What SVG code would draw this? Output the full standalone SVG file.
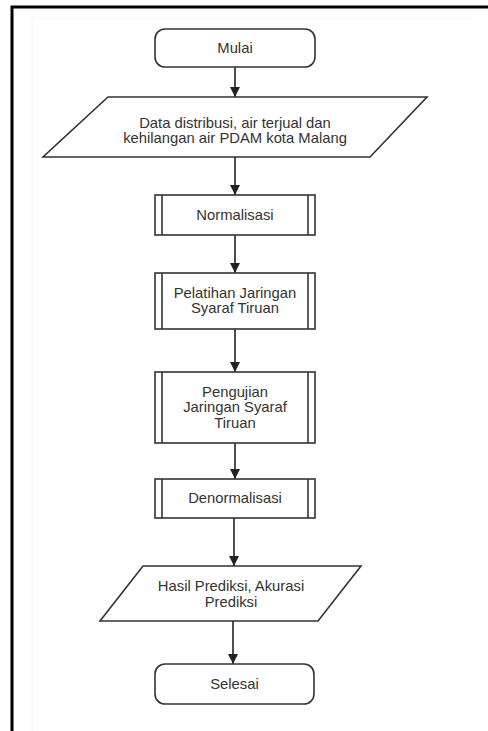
<svg xmlns="http://www.w3.org/2000/svg" width="488" height="731" viewBox="0 0 488 731">
<defs>
<marker id="arr" viewBox="0 0 10 10" refX="10" refY="5" markerWidth="10" markerHeight="10" markerUnits="userSpaceOnUse" orient="auto">
<path d="M0,0 L10,5 L0,10 z" fill="#222"/>
</marker>
<style>
.s{fill:#fff;stroke:#333;stroke-width:1.6}
.t{font-family:"Liberation Sans",Arial,sans-serif;font-size:14.8px;fill:#333;text-anchor:middle}
.c{stroke:#222;stroke-width:1.6;fill:none}
</style>
</defs>
<rect x="0" y="0" width="488" height="731" fill="#fff"/>
<path d="M32,731 L32,18 L472,18" fill="none" stroke="#f6f6f6" stroke-width="1"/>
<path d="M12,731 L12,7 L488,7" fill="none" stroke="#000" stroke-width="3"/>
<g id="connectors">
<line class="c" x1="235" y1="67" x2="235" y2="97" marker-end="url(#arr)"/>
<line class="c" x1="235" y1="157" x2="235" y2="195" marker-end="url(#arr)"/>
<line class="c" x1="235" y1="235" x2="235" y2="273" marker-end="url(#arr)"/>
<line class="c" x1="235" y1="329" x2="235" y2="372" marker-end="url(#arr)"/>
<line class="c" x1="235" y1="443" x2="235" y2="479" marker-end="url(#arr)"/>
<line class="c" x1="234" y1="518" x2="234" y2="566" marker-end="url(#arr)"/>
<line class="c" x1="233" y1="621" x2="233" y2="664" marker-end="url(#arr)"/>
</g>
<g id="mulai">
<rect class="s" x="155" y="29" width="160" height="38" rx="10"/>
<text class="t" x="235" y="53">Mulai</text>
</g>
<g id="data">
<polygon class="s" points="108,97 427,97 370,157 43,157"/>
<text class="t" x="235" y="128">Data distribusi, air terjual dan</text>
<text class="t" x="235" y="143">kehilangan air PDAM kota Malang</text>
</g>
<g id="normalisasi">
<rect class="s" x="155" y="195" width="160" height="40"/>
<line class="s" x1="162" y1="195" x2="162" y2="235"/>
<line class="s" x1="308" y1="195" x2="308" y2="235"/>
<text class="t" x="235" y="220">Normalisasi</text>
</g>
<g id="pelatihan">
<rect class="s" x="155" y="273" width="160" height="56"/>
<line class="s" x1="162" y1="273" x2="162" y2="329"/>
<line class="s" x1="308" y1="273" x2="308" y2="329"/>
<text class="t" x="235" y="298">Pelatihan Jaringan</text>
<text class="t" x="235" y="313">Syaraf Tiruan</text>
</g>
<g id="pengujian">
<rect class="s" x="155" y="372" width="160" height="71"/>
<line class="s" x1="162" y1="372" x2="162" y2="443"/>
<line class="s" x1="308" y1="372" x2="308" y2="443"/>
<text class="t" x="235" y="397">Pengujian</text>
<text class="t" x="235" y="412">Jaringan Syaraf</text>
<text class="t" x="235" y="428">Tiruan</text>
</g>
<g id="denormalisasi">
<rect class="s" x="155" y="479" width="160" height="39"/>
<line class="s" x1="162" y1="479" x2="162" y2="518"/>
<line class="s" x1="308" y1="479" x2="308" y2="518"/>
<text class="t" x="235" y="503">Denormalisasi</text>
</g>
<g id="hasil">
<polygon class="s" points="143,566 361,566 318,621 100,621"/>
<text class="t" x="231" y="591">Hasil Prediksi, Akurasi</text>
<text class="t" x="231" y="607">Prediksi</text>
</g>
<g id="selesai">
<rect class="s" x="155" y="664" width="159" height="40" rx="10"/>
<text class="t" x="234.5" y="689">Selesai</text>
</g>
</svg>
